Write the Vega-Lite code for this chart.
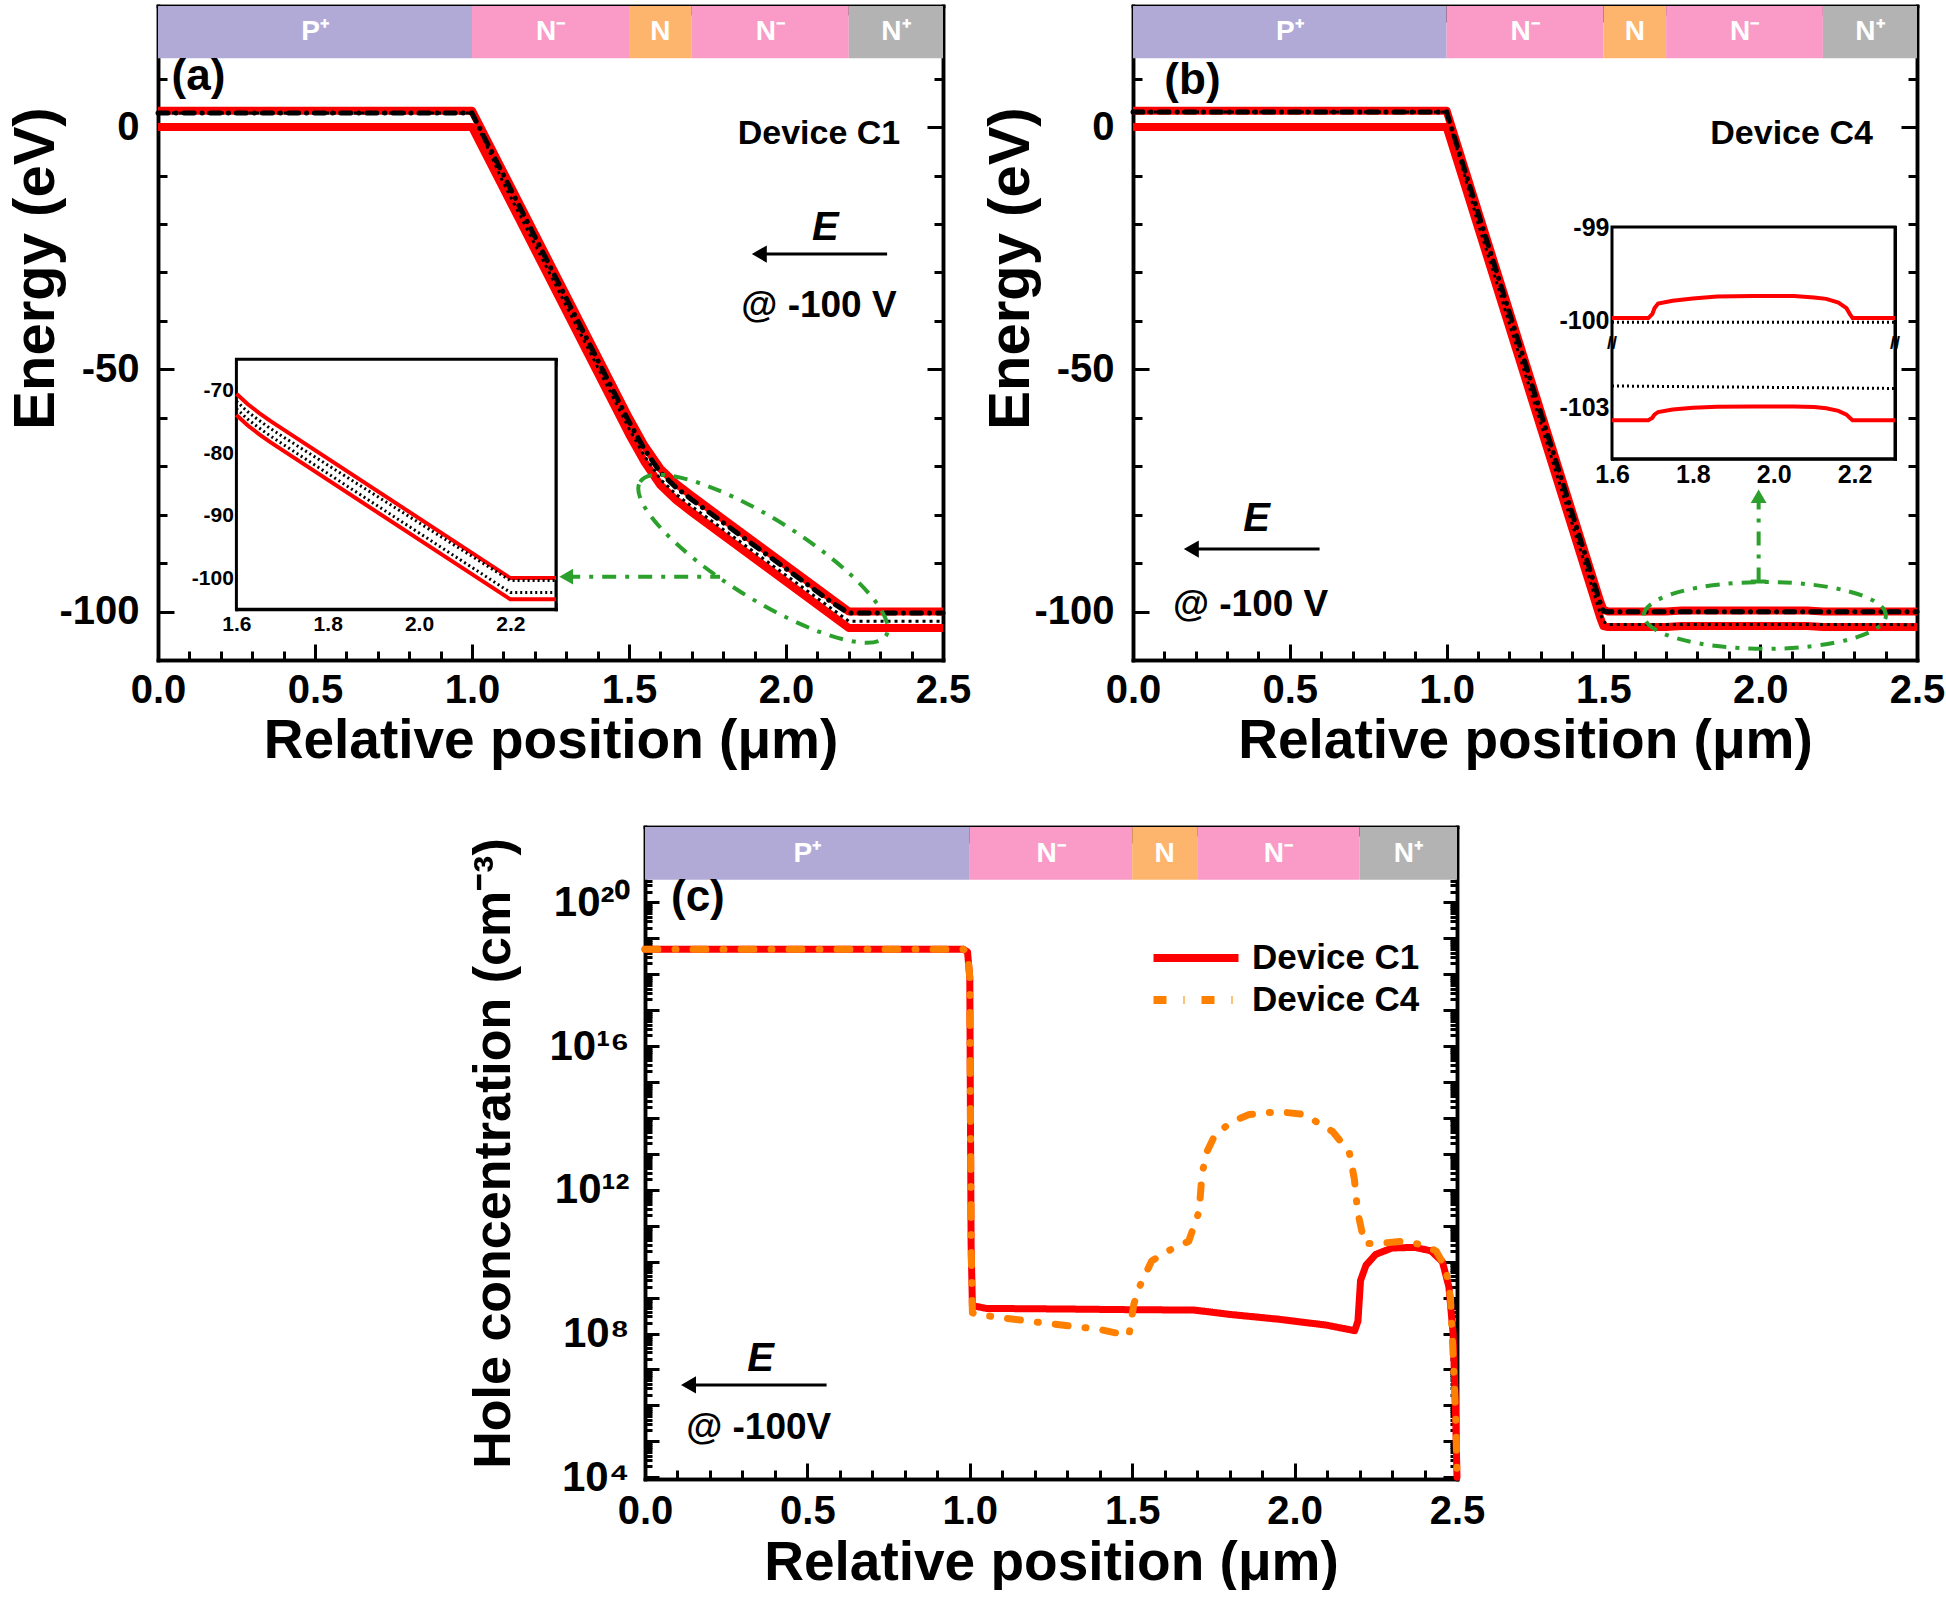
{
"$schema":"https://vega.github.io/schema/vega-lite/v6.json",
"background":"white",
"padding":{"left":7,"top":4,"right":0,"bottom":0},
"config":{
 "font":"Liberation Sans",
 "view":{"stroke":null},
 "axis":{"grid":false,"domainColor":"black","domainWidth":3.5,"domainCap":"square","tickColor":"black","tickWidth":3,"labelFont":"Liberation Sans","labelFontWeight":"bold","labelFontSize":40,"labelColor":"black","titleFont":"Liberation Sans","titleFontWeight":"bold","titleFontSize":55,"titleColor":"black","zindex":1,"labelOverlap":false,"labelFlush":false,"labelBound":false},
 "text":{"font":"Liberation Sans"}
},
"datasets":{
 "regions":[
  {"reg":"P+","lab":"P⁺","x0":0,"x1":1.0,"xm":0.5},
  {"reg":"N-","lab":"N⁻","x0":1.0,"x1":1.5,"xm":1.25},
  {"reg":"N","lab":"N","x0":1.5,"x1":1.7,"xm":1.6},
  {"reg":"N-","lab":"N⁻","x0":1.7,"x1":2.2,"xm":1.95},
  {"reg":"N+","lab":"N⁺","x0":2.2,"x1":2.5,"xm":2.35}
 ],
 "bandA":[
  {"s":"Ec","x":0,"y":3.4},{"s":"Ec","x":1.0,"y":3.4},{"s":"Ec","x":1.5,"y":-60},{"s":"Ec","x":1.55,"y":-65.8},{"s":"Ec","x":1.6,"y":-70.5},{"s":"Ec","x":1.65,"y":-73.6},{"s":"Ec","x":1.7,"y":-76.1},{"s":"Ec","x":2.2,"y":-100},{"s":"Ec","x":2.5,"y":-100},
  {"s":"Ev","x":0,"y":0},{"s":"Ev","x":1.0,"y":0},{"s":"Ev","x":1.5,"y":-63.4},{"s":"Ev","x":1.55,"y":-69.2},{"s":"Ev","x":1.6,"y":-73.9},{"s":"Ev","x":1.65,"y":-77.0},{"s":"Ev","x":1.7,"y":-79.5},{"s":"Ev","x":2.2,"y":-103.4},{"s":"Ev","x":2.5,"y":-103.4},
  {"s":"Fn","x":0,"y":2.9},{"s":"Fn","x":1.0,"y":2.9},{"s":"Fn","x":1.5,"y":-60.8},{"s":"Fn","x":1.55,"y":-66.6},{"s":"Fn","x":1.6,"y":-71.3},{"s":"Fn","x":1.65,"y":-74.4},{"s":"Fn","x":1.7,"y":-76.9},{"s":"Fn","x":2.15,"y":-98.3},{"s":"Fn","x":2.2,"y":-100.3},{"s":"Fn","x":2.5,"y":-100.3},
  {"s":"Fp","x":0,"y":2.9},{"s":"Fp","x":1.0,"y":2.9},{"s":"Fp","x":1.1,"y":-11.5},{"s":"Fp","x":1.5,"y":-62.2},{"s":"Fp","x":1.55,"y":-68.0},{"s":"Fp","x":1.6,"y":-72.7},{"s":"Fp","x":1.65,"y":-75.8},{"s":"Fp","x":1.7,"y":-78.3},{"s":"Fp","x":2.2,"y":-102.0},{"s":"Fp","x":2.5,"y":-102.0}
 ],
 "insetA":[
  {"s":"Ec","x":1.6,"y":-70.5},{"s":"Ec","x":1.625,"y":-72.2},{"s":"Ec","x":1.65,"y":-73.6},{"s":"Ec","x":1.675,"y":-74.9},{"s":"Ec","x":1.7,"y":-76.1},{"s":"Ec","x":2.2,"y":-100},{"s":"Ec","x":2.3,"y":-100},
  {"s":"Ev","x":1.6,"y":-73.9},{"s":"Ev","x":1.625,"y":-75.6},{"s":"Ev","x":1.65,"y":-77.0},{"s":"Ev","x":1.675,"y":-78.3},{"s":"Ev","x":1.7,"y":-79.5},{"s":"Ev","x":2.2,"y":-103.4},{"s":"Ev","x":2.3,"y":-103.4},
  {"s":"Fn","x":1.6,"y":-71.7},{"s":"Fn","x":1.625,"y":-73.4},{"s":"Fn","x":1.65,"y":-74.8},{"s":"Fn","x":1.675,"y":-76.1},{"s":"Fn","x":1.7,"y":-77.3},{"s":"Fn","x":2.2,"y":-100.4},{"s":"Fn","x":2.3,"y":-100.4},
  {"s":"Fp","x":1.6,"y":-72.9},{"s":"Fp","x":1.625,"y":-74.6},{"s":"Fp","x":1.65,"y":-76.0},{"s":"Fp","x":1.675,"y":-77.3},{"s":"Fp","x":1.7,"y":-78.5},{"s":"Fp","x":2.2,"y":-102.3},{"s":"Fp","x":2.3,"y":-102.3}
 ],
 "bandB":[
  {"s":"Ec","x":0,"y":3.4},{"s":"Ec","x":1.0,"y":3.4},{"s":"Ec","x":1.49,"y":-97.9},{"s":"Ec","x":1.5,"y":-99.6},{"s":"Ec","x":1.515,"y":-100},{"s":"Ec","x":1.7,"y":-100},{"s":"Ec","x":1.75,"y":-99.8},{"s":"Ec","x":2.15,"y":-99.8},{"s":"Ec","x":2.2,"y":-100},{"s":"Ec","x":2.5,"y":-100},
  {"s":"Ev","x":0,"y":0},{"s":"Ev","x":1.0,"y":0},{"s":"Ev","x":1.49,"y":-101.3},{"s":"Ev","x":1.5,"y":-103.0},{"s":"Ev","x":1.515,"y":-103.2},{"s":"Ev","x":1.7,"y":-103.2},{"s":"Ev","x":1.75,"y":-103.0},{"s":"Ev","x":2.15,"y":-103.0},{"s":"Ev","x":2.2,"y":-103.2},{"s":"Ev","x":2.5,"y":-103.2},
  {"s":"Fn","x":0,"y":3.1},{"s":"Fn","x":1.0,"y":3.1},{"s":"Fn","x":1.49,"y":-98.2},{"s":"Fn","x":1.5,"y":-99.9},{"s":"Fn","x":1.515,"y":-100.02},{"s":"Fn","x":2.5,"y":-100.02},
  {"s":"Fp","x":0,"y":3.1},{"s":"Fp","x":1.0,"y":3.1},{"s":"Fp","x":1.1,"y":-19.8},{"s":"Fp","x":1.49,"y":-100.4},{"s":"Fp","x":1.5,"y":-102.1},{"s":"Fp","x":1.515,"y":-102.66},{"s":"Fp","x":2.5,"y":-102.7}
 ],
 "insetB":[
  {"s":"Ec","x":1.6,"y":-99.975},{"s":"Ec","x":1.69,"y":-99.975},{"s":"Ec","x":1.7,"y":-99.93},{"s":"Ec","x":1.705,"y":-99.87},{"s":"Ec","x":1.714,"y":-99.82},{"s":"Ec","x":1.75,"y":-99.79},{"s":"Ec","x":1.8,"y":-99.765},{"s":"Ec","x":1.86,"y":-99.745},{"s":"Ec","x":1.95,"y":-99.74},{"s":"Ec","x":2.05,"y":-99.74},{"s":"Ec","x":2.1,"y":-99.755},{"s":"Ec","x":2.13,"y":-99.77},{"s":"Ec","x":2.16,"y":-99.81},{"s":"Ec","x":2.18,"y":-99.87},{"s":"Ec","x":2.188,"y":-99.93},{"s":"Ec","x":2.195,"y":-99.975},{"s":"Ec","x":2.3,"y":-99.975},
  {"s":"Ev","x":1.6,"y":-103.21},{"s":"Ev","x":1.69,"y":-103.21},{"s":"Ev","x":1.7,"y":-103.17},{"s":"Ev","x":1.705,"y":-103.12},{"s":"Ev","x":1.714,"y":-103.08},{"s":"Ev","x":1.75,"y":-103.04},{"s":"Ev","x":1.8,"y":-103.01},{"s":"Ev","x":1.86,"y":-102.995},{"s":"Ev","x":1.95,"y":-102.99},{"s":"Ev","x":2.05,"y":-102.99},{"s":"Ev","x":2.1,"y":-103.0},{"s":"Ev","x":2.13,"y":-103.02},{"s":"Ev","x":2.16,"y":-103.06},{"s":"Ev","x":2.18,"y":-103.12},{"s":"Ev","x":2.188,"y":-103.17},{"s":"Ev","x":2.195,"y":-103.21},{"s":"Ev","x":2.3,"y":-103.21},
  {"s":"Fn","x":1.6,"y":-100.02},{"s":"Fn","x":2.3,"y":-100.02},
  {"s":"Fp","x":1.6,"y":-102.66},{"s":"Fp","x":2.3,"y":-102.7}
 ],
 "holes":[
  {"dev":"Device C1","x":0,"p":5e18},{"dev":"Device C1","x":0.98,"p":5e18},{"dev":"Device C1","x":0.993,"p":4.2e18},{"dev":"Device C1","x":1.0,"p":8e17},{"dev":"Device C1","x":1.002,"p":1e14},{"dev":"Device C1","x":1.004,"p":3e10},{"dev":"Device C1","x":1.008,"p":6e8},{"dev":"Device C1","x":1.05,"p":5e8},{"dev":"Device C1","x":1.3,"p":4.8e8},{"dev":"Device C1","x":1.5,"p":4.6e8},{"dev":"Device C1","x":1.69,"p":4.5e8},{"dev":"Device C1","x":1.8,"p":3.4e8},{"dev":"Device C1","x":1.95,"p":2.5e8},{"dev":"Device C1","x":2.1,"p":1.7e8},{"dev":"Device C1","x":2.185,"p":1.2e8},{"dev":"Device C1","x":2.195,"p":2.2e8},{"dev":"Device C1","x":2.203,"p":3e9},{"dev":"Device C1","x":2.22,"p":8e9},{"dev":"Device C1","x":2.25,"p":1.6e10},{"dev":"Device C1","x":2.3,"p":2.4e10},{"dev":"Device C1","x":2.37,"p":2.5e10},{"dev":"Device C1","x":2.42,"p":2e10},{"dev":"Device C1","x":2.455,"p":1e10},{"dev":"Device C1","x":2.475,"p":2e9},{"dev":"Device C1","x":2.488,"p":1e8},{"dev":"Device C1","x":2.495,"p":1e6},{"dev":"Device C1","x":2.5,"p":1e4},
  {"dev":"Device C4","x":0,"p":5e18},{"dev":"Device C4","x":0.98,"p":5e18},{"dev":"Device C4","x":0.993,"p":4.2e18},{"dev":"Device C4","x":1.0,"p":8e17},{"dev":"Device C4","x":1.002,"p":1e14},{"dev":"Device C4","x":1.004,"p":3e10},{"dev":"Device C4","x":1.008,"p":3.8e8},{"dev":"Device C4","x":1.02,"p":3.4e8},{"dev":"Device C4","x":1.2,"p":2.1e8},{"dev":"Device C4","x":1.4,"p":1.3e8},{"dev":"Device C4","x":1.47,"p":9.5e7},{"dev":"Device C4","x":1.49,"p":9e7},{"dev":"Device C4","x":1.505,"p":6.5e8},{"dev":"Device C4","x":1.52,"p":1.8e9},{"dev":"Device C4","x":1.56,"p":1.05e10},{"dev":"Device C4","x":1.616,"p":2.1e10},{"dev":"Device C4","x":1.674,"p":3.7e10},{"dev":"Device C4","x":1.706,"p":2.5e11},{"dev":"Device C4","x":1.715,"p":2.8e12},{"dev":"Device C4","x":1.73,"p":1.15e13},{"dev":"Device C4","x":1.755,"p":3.4e13},{"dev":"Device C4","x":1.808,"p":8e13},{"dev":"Device C4","x":1.86,"p":1.25e14},{"dev":"Device C4","x":1.95,"p":1.5e14},{"dev":"Device C4","x":2.03,"p":1.25e14},{"dev":"Device C4","x":2.117,"p":4.2e13},{"dev":"Device C4","x":2.168,"p":1.15e13},{"dev":"Device C4","x":2.184,"p":2e12},{"dev":"Device C4","x":2.194,"p":2.5e11},{"dev":"Device C4","x":2.215,"p":3.2e10},{"dev":"Device C4","x":2.26,"p":3.2e10},{"dev":"Device C4","x":2.33,"p":3.7e10},{"dev":"Device C4","x":2.39,"p":3e10},{"dev":"Device C4","x":2.435,"p":2e10},{"dev":"Device C4","x":2.465,"p":6.8e9},{"dev":"Device C4","x":2.48,"p":1e9},{"dev":"Device C4","x":2.49,"p":1e7},{"dev":"Device C4","x":2.497,"p":3e5},{"dev":"Device C4","x":2.5,"p":1e4}
 ]
},
"spacing":41,
"vconcat":[
 {"spacing":11,"hconcat":[
  {"width":785,"height":654,
   "resolve":{"scale":{"x":"independent","y":"independent"}},
   "layer":[
    {"data":{"name":"regions"},"mark":{"type":"rect"},
     "encoding":{"x":{"field":"x0","type":"quantitative","scale":{"domain":[0,2.5],"nice":false,"zero":false},"axis":{"orient":"top","values":[0.1,0.2,0.3,0.4,0.6,0.7,0.8,0.9,1.1,1.2,1.3,1.4,1.6,1.7,1.8,1.9,2.1,2.2,2.3,2.4],"tickSize":-9,"labels":false,"title":null}},
      "x2":{"field":"x1"},
      "y":{"datum":25,"type":"quantitative","scale":{"domain":[-110,25],"nice":false,"zero":false},"axis":{"orient":"right","values":[-110,-90,-80,-70,-60,-40,-30,-20,-10,10,20],"tickSize":-9,"labels":false,"title":null}},
      "y2":{"datum":14.2},
      "fill":{"field":"reg","type":"nominal","scale":{"domain":["P+","N-","N","N+"],"range":["#B1A9D6","#F99BC6","#FDB56E","#B3B3B3"]},"legend":null}}},
    {"data":{"name":"regions"},"mark":{"type":"text","color":"white","fontSize":28,"fontWeight":"bold"},
     "encoding":{"x":{"field":"xm","type":"quantitative","scale":{"domain":[0,2.5],"nice":false,"zero":false},"axis":null},
      "y":{"datum":19.6,"type":"quantitative","scale":{"domain":[-110,25],"nice":false,"zero":false},"axis":null},
      "text":{"field":"lab"}}},
    {"data":{"name":"bandA"},"transform":[{"filter":"datum.s == 'Ec' || datum.s == 'Ev'"}],
     "mark":{"type":"line","color":"#FF0000","strokeWidth":8,"strokeJoin":"round"},
     "encoding":{"x":{"field":"x","type":"quantitative","scale":{"domain":[0,2.5],"nice":false,"zero":false},"axis":{"orient":"bottom","values":[0,0.5,1,1.5,2,2.5],"format":".1f","tickSize":-16,"labelPadding":26,"title":"Relative position (μm)","titlePadding":4}},
      "y":{"field":"y","type":"quantitative","scale":{"domain":[-110,25],"nice":false,"zero":false},"axis":{"orient":"left","values":[-100,-50,0],"labelExpr":"'' + datum.value","tickSize":-16,"labelPadding":35,"title":"Energy (eV)","titleFontSize":58,"titlePadding":-7,"titleY":262}},
      "detail":{"field":"s"}}},
    {"data":{"name":"bandA"},"transform":[{"filter":"datum.s == 'Fn'"}],
     "mark":{"type":"line","color":"black","strokeWidth":5,"strokeDash":[10,8,0.1,8],"strokeCap":"round"},
     "encoding":{"x":{"field":"x","type":"quantitative","scale":{"domain":[0,2.5],"nice":false,"zero":false},"axis":{"orient":"bottom","values":[0.1,0.2,0.3,0.4,0.6,0.7,0.8,0.9,1.1,1.2,1.3,1.4,1.6,1.7,1.8,1.9,2.1,2.2,2.3,2.4],"tickSize":-9,"labels":false,"title":null}},
      "y":{"field":"y","type":"quantitative","scale":{"domain":[-110,25],"nice":false,"zero":false},"axis":{"orient":"left","values":[-110,-90,-80,-70,-60,-40,-30,-20,-10,10,20],"tickSize":-9,"labels":false,"title":null}}}},
    {"data":{"name":"bandA"},"transform":[{"filter":"datum.s == 'Fp'"}],
     "mark":{"type":"line","color":"black","strokeWidth":3,"strokeDash":[3,4]},
     "encoding":{"x":{"field":"x","type":"quantitative","scale":{"domain":[0,2.5],"nice":false,"zero":false},"axis":{"orient":"top","values":[0,0.5,1,1.5,2,2.5],"tickSize":-16,"labels":false,"title":null}},
      "y":{"field":"y","type":"quantitative","scale":{"domain":[-110,25],"nice":false,"zero":false},"axis":{"orient":"right","values":[-100,-50,0],"tickSize":-16,"labels":false,"title":null}}}},
    {"data":{"values":[{}]},"mark":{"type":"text","text":"(a)","fontSize":44,"fontWeight":"bold","align":"left","baseline":"middle"},
     "encoding":{"x":{"datum":0.043,"type":"quantitative","scale":{"domain":[0,2.5],"nice":false,"zero":false},"axis":null},"y":{"datum":10.3,"type":"quantitative","scale":{"domain":[-110,25],"nice":false,"zero":false},"axis":null}}},
    {"data":{"values":[{}]},"mark":{"type":"text","text":"Device C1","fontSize":34,"fontWeight":"bold","align":"center","baseline":"middle"},
     "encoding":{"x":{"datum":2.105,"type":"quantitative","scale":{"domain":[0,2.5],"nice":false,"zero":false},"axis":null},"y":{"datum":-1.5,"type":"quantitative","scale":{"domain":[-110,25],"nice":false,"zero":false},"axis":null}}},
    {"data":{"values":[{}]},"mark":{"type":"text","text":"E","fontSize":40,"fontWeight":"bold","fontStyle":"italic","align":"center","baseline":"middle"},
     "encoding":{"x":{"datum":2.125,"type":"quantitative","scale":{"domain":[0,2.5],"nice":false,"zero":false},"axis":null},"y":{"datum":-20.8,"type":"quantitative","scale":{"domain":[-110,25],"nice":false,"zero":false},"axis":null}}},
    {"data":{"values":[{}]},"mark":{"type":"rule","color":"black","strokeWidth":3},
     "encoding":{"x":{"datum":1.91,"type":"quantitative","scale":{"domain":[0,2.5],"nice":false,"zero":false},"axis":null},"x2":{"datum":2.322},"y":{"datum":-26.2,"type":"quantitative","scale":{"domain":[-110,25],"nice":false,"zero":false},"axis":null}}},
    {"data":{"values":[{}]},"mark":{"type":"point","shape":"triangle-left","filled":true,"color":"black","size":300,"opacity":1},
     "encoding":{"x":{"datum":1.915,"type":"quantitative","scale":{"domain":[0,2.5],"nice":false,"zero":false},"axis":null},"y":{"datum":-26.2,"type":"quantitative","scale":{"domain":[-110,25],"nice":false,"zero":false},"axis":null}}},
    {"data":{"values":[{}]},"mark":{"type":"text","text":"@ -100 V","fontSize":37,"fontWeight":"bold","align":"center","baseline":"middle"},
     "encoding":{"x":{"datum":2.105,"type":"quantitative","scale":{"domain":[0,2.5],"nice":false,"zero":false},"axis":null},"y":{"datum":-37,"type":"quantitative","scale":{"domain":[-110,25],"nice":false,"zero":false},"axis":null}}},
    {"data":{"values":[{}]},"mark":{"type":"point","shape":"M-1,0 C-1,-0.1524 -0.5523,-0.276 0,-0.276 C0.5523,-0.276 1,-0.1524 1,0 C1,0.1524 0.5523,0.276 0,0.276 C-0.5523,0.276 -1,0.1524 -1,0 Z","filled":false,"color":"#2CA02C","strokeWidth":4,"strokeDash":[14,9,4,9],"size":84100,"angle":32,"opacity":1},
     "encoding":{"x":{"datum":1.927,"type":"quantitative","scale":{"domain":[0,2.5],"nice":false,"zero":false},"axis":null},"y":{"datum":-89.1,"type":"quantitative","scale":{"domain":[-110,25],"nice":false,"zero":false},"axis":null}}},
    {"data":{"values":[{}]},"mark":{"type":"rect","fill":"white","stroke":"black","strokeWidth":3},
     "encoding":{"x":{"datum":1.6,"type":"quantitative","scale":{"domain":[1.6,2.3],"range":[78.4,398],"nice":false,"zero":false},"axis":{"orient":"top","offset":-353.3,"values":[1.6,1.7,1.8,1.9,2.0,2.1,2.2,2.3],"tickSize":-7,"tickWidth":2,"domainWidth":3,"labels":false,"title":null}},"x2":{"datum":2.3},
      "y":{"datum":-105,"type":"quantitative","scale":{"domain":[-105,-65],"range":[603.3,353.3],"nice":false,"zero":false},"axis":{"orient":"right","offset":-387.5,"values":[-100,-95,-90,-85,-80,-75,-70],"tickSize":-7,"tickWidth":2,"domainWidth":3,"labels":false,"title":null}},"y2":{"datum":-65}}},
    {"data":{"name":"insetA"},"transform":[{"filter":"datum.s == 'Ec' || datum.s == 'Ev'"}],
     "mark":{"type":"line","color":"#FF0000","strokeWidth":4},
     "encoding":{"x":{"field":"x","type":"quantitative","scale":{"domain":[1.6,2.3],"range":[78.4,398],"nice":false,"zero":false},"axis":{"orient":"bottom","offset":-50.7,"values":[1.6,1.7,1.8,1.9,2.0,2.1,2.2,2.3],"labelExpr":"abs(datum.value*5 - round(datum.value*5)) < 0.001 ? format(datum.value, '.1f') : ''","tickSize":-7,"tickWidth":2,"domainWidth":3,"labelPadding":11,"labelFontSize":21,"title":null}},
      "y":{"field":"y","type":"quantitative","scale":{"domain":[-105,-65],"range":[603.3,353.3],"nice":false,"zero":false},"axis":{"orient":"left","offset":-78.4,"values":[-100,-95,-90,-85,-80,-75,-70],"labelExpr":"datum.value % 10 == 0 ? '' + datum.value : ''","tickSize":-7,"tickWidth":2,"domainWidth":3,"labelPadding":10,"labelFontSize":21,"title":null}},
      "detail":{"field":"s"}}},
    {"data":{"name":"insetA"},"transform":[{"filter":"datum.s == 'Fn' || datum.s == 'Fp'"}],
     "mark":{"type":"line","color":"black","strokeWidth":3,"strokeDash":[2,3]},
     "encoding":{"x":{"field":"x","type":"quantitative","scale":{"domain":[1.6,2.3],"range":[78.4,398],"nice":false,"zero":false},"axis":null},
      "y":{"field":"y","type":"quantitative","scale":{"domain":[-105,-65],"range":[603.3,353.3],"nice":false,"zero":false},"axis":null},
      "detail":{"field":"s"}}},
    {"data":{"values":[{}]},"mark":{"type":"rule","color":"#2CA02C","strokeWidth":4,"strokeDash":[14,9,4,9]},
     "encoding":{"x":{"datum":1.30,"type":"quantitative","scale":{"domain":[0,2.5],"nice":false,"zero":false},"axis":null},"x2":{"datum":1.79},"y":{"datum":-92.8,"type":"quantitative","scale":{"domain":[-110,25],"nice":false,"zero":false},"axis":null}}},
    {"data":{"values":[{}]},"mark":{"type":"point","shape":"triangle-left","filled":true,"color":"#2CA02C","size":250,"opacity":1},
     "encoding":{"x":{"datum":1.30,"type":"quantitative","scale":{"domain":[0,2.5],"nice":false,"zero":false},"axis":null},"y":{"datum":-92.8,"type":"quantitative","scale":{"domain":[-110,25],"nice":false,"zero":false},"axis":null}}}
   ]},
  {"width":784,"height":654,
   "resolve":{"scale":{"x":"independent","y":"independent"}},
   "layer":[
    {"data":{"name":"regions"},"mark":{"type":"rect"},
     "encoding":{"x":{"field":"x0","type":"quantitative","scale":{"domain":[0,2.5],"nice":false,"zero":false},"axis":{"orient":"top","values":[0.1,0.2,0.3,0.4,0.6,0.7,0.8,0.9,1.1,1.2,1.3,1.4,1.6,1.7,1.8,1.9,2.1,2.2,2.3,2.4],"tickSize":-9,"labels":false,"title":null}},
      "x2":{"field":"x1"},
      "y":{"datum":25,"type":"quantitative","scale":{"domain":[-110,25],"nice":false,"zero":false},"axis":{"orient":"right","values":[-110,-90,-80,-70,-60,-40,-30,-20,-10,10,20],"tickSize":-9,"labels":false,"title":null}},
      "y2":{"datum":14.2},
      "fill":{"field":"reg","type":"nominal","scale":{"domain":["P+","N-","N","N+"],"range":["#B1A9D6","#F99BC6","#FDB56E","#B3B3B3"]},"legend":null}}},
    {"data":{"name":"regions"},"mark":{"type":"text","color":"white","fontSize":28,"fontWeight":"bold"},
     "encoding":{"x":{"field":"xm","type":"quantitative","scale":{"domain":[0,2.5],"nice":false,"zero":false},"axis":null},
      "y":{"datum":19.6,"type":"quantitative","scale":{"domain":[-110,25],"nice":false,"zero":false},"axis":null},
      "text":{"field":"lab"}}},
    {"data":{"name":"bandB"},"transform":[{"filter":"datum.s == 'Ec' || datum.s == 'Ev'"}],
     "mark":{"type":"line","color":"#FF0000","strokeWidth":8,"strokeJoin":"round"},
     "encoding":{"x":{"field":"x","type":"quantitative","scale":{"domain":[0,2.5],"nice":false,"zero":false},"axis":{"orient":"bottom","values":[0,0.5,1,1.5,2,2.5],"format":".1f","tickSize":-16,"labelPadding":26,"title":"Relative position (μm)","titlePadding":4}},
      "y":{"field":"y","type":"quantitative","scale":{"domain":[-110,25],"nice":false,"zero":false},"axis":{"orient":"left","values":[-100,-50,0],"labelExpr":"'' + datum.value","tickSize":-16,"labelPadding":35,"title":"Energy (eV)","titleFontSize":58,"titlePadding":-7,"titleY":262}},
      "detail":{"field":"s"}}},
    {"data":{"name":"bandB"},"transform":[{"filter":"datum.s == 'Fn'"}],
     "mark":{"type":"line","color":"black","strokeWidth":5,"strokeDash":[10,8,0.1,8],"strokeCap":"round"},
     "encoding":{"x":{"field":"x","type":"quantitative","scale":{"domain":[0,2.5],"nice":false,"zero":false},"axis":{"orient":"bottom","values":[0.1,0.2,0.3,0.4,0.6,0.7,0.8,0.9,1.1,1.2,1.3,1.4,1.6,1.7,1.8,1.9,2.1,2.2,2.3,2.4],"tickSize":-9,"labels":false,"title":null}},
      "y":{"field":"y","type":"quantitative","scale":{"domain":[-110,25],"nice":false,"zero":false},"axis":{"orient":"left","values":[-110,-90,-80,-70,-60,-40,-30,-20,-10,10,20],"tickSize":-9,"labels":false,"title":null}}}},
    {"data":{"name":"bandB"},"transform":[{"filter":"datum.s == 'Fp'"}],
     "mark":{"type":"line","color":"black","strokeWidth":3,"strokeDash":[3,4]},
     "encoding":{"x":{"field":"x","type":"quantitative","scale":{"domain":[0,2.5],"nice":false,"zero":false},"axis":{"orient":"top","values":[0,0.5,1,1.5,2,2.5],"tickSize":-16,"labels":false,"title":null}},
      "y":{"field":"y","type":"quantitative","scale":{"domain":[-110,25],"nice":false,"zero":false},"axis":{"orient":"right","values":[-100,-50,0],"tickSize":-16,"labels":false,"title":null}}}},
    {"data":{"values":[{}]},"mark":{"type":"text","text":"(b)","fontSize":44,"fontWeight":"bold","align":"left","baseline":"middle"},
     "encoding":{"x":{"datum":0.1,"type":"quantitative","scale":{"domain":[0,2.5],"nice":false,"zero":false},"axis":null},"y":{"datum":9.5,"type":"quantitative","scale":{"domain":[-110,25],"nice":false,"zero":false},"axis":null}}},
    {"data":{"values":[{}]},"mark":{"type":"text","text":"Device C4","fontSize":34,"fontWeight":"bold","align":"center","baseline":"middle"},
     "encoding":{"x":{"datum":2.1,"type":"quantitative","scale":{"domain":[0,2.5],"nice":false,"zero":false},"axis":null},"y":{"datum":-1.5,"type":"quantitative","scale":{"domain":[-110,25],"nice":false,"zero":false},"axis":null}}},
    {"data":{"values":[{}]},"mark":{"type":"text","text":"E","fontSize":40,"fontWeight":"bold","fontStyle":"italic","align":"center","baseline":"middle"},
     "encoding":{"x":{"datum":0.394,"type":"quantitative","scale":{"domain":[0,2.5],"nice":false,"zero":false},"axis":null},"y":{"datum":-80.9,"type":"quantitative","scale":{"domain":[-110,25],"nice":false,"zero":false},"axis":null}}},
    {"data":{"values":[{}]},"mark":{"type":"rule","color":"black","strokeWidth":3},
     "encoding":{"x":{"datum":0.18,"type":"quantitative","scale":{"domain":[0,2.5],"nice":false,"zero":false},"axis":null},"x2":{"datum":0.595},"y":{"datum":-87.1,"type":"quantitative","scale":{"domain":[-110,25],"nice":false,"zero":false},"axis":null}}},
    {"data":{"values":[{}]},"mark":{"type":"point","shape":"triangle-left","filled":true,"color":"black","size":300,"opacity":1},
     "encoding":{"x":{"datum":0.186,"type":"quantitative","scale":{"domain":[0,2.5],"nice":false,"zero":false},"axis":null},"y":{"datum":-87.1,"type":"quantitative","scale":{"domain":[-110,25],"nice":false,"zero":false},"axis":null}}},
    {"data":{"values":[{}]},"mark":{"type":"text","text":"@ -100 V","fontSize":37,"fontWeight":"bold","align":"center","baseline":"middle"},
     "encoding":{"x":{"datum":0.375,"type":"quantitative","scale":{"domain":[0,2.5],"nice":false,"zero":false},"axis":null},"y":{"datum":-98.7,"type":"quantitative","scale":{"domain":[-110,25],"nice":false,"zero":false},"axis":null}}},
    {"data":{"values":[{}]},"mark":{"type":"point","shape":"M-1,0 C-1,-0.1524 -0.5523,-0.276 0,-0.276 C0.5523,-0.276 1,-0.1524 1,0 C1,0.1524 0.5523,0.276 0,0.276 C-0.5523,0.276 -1,0.1524 -1,0 Z","filled":false,"color":"#2CA02C","strokeWidth":4,"strokeDash":[14,9,4,9],"size":58564,"angle":0,"opacity":1},
     "encoding":{"x":{"datum":2.015,"type":"quantitative","scale":{"domain":[0,2.5],"nice":false,"zero":false},"axis":null},"y":{"datum":-100.8,"type":"quantitative","scale":{"domain":[-110,25],"nice":false,"zero":false},"axis":null}}},
    {"data":{"values":[{}]},"mark":{"type":"rule","color":"#2CA02C","strokeWidth":4,"strokeDash":[14,9,4,9]},
     "encoding":{"x":{"datum":1.995,"type":"quantitative","scale":{"domain":[0,2.5],"nice":false,"zero":false},"axis":null},"y":{"datum":-93.8,"type":"quantitative","scale":{"domain":[-110,25],"nice":false,"zero":false},"axis":null},"y2":{"datum":-77}}},
    {"data":{"values":[{}]},"mark":{"type":"rule","color":"#2CA02C","strokeWidth":4},
     "encoding":{"x":{"datum":1.97,"type":"quantitative","scale":{"domain":[0,2.5],"nice":false,"zero":false},"axis":null},"x2":{"datum":2.02},"y":{"datum":-93.8,"type":"quantitative","scale":{"domain":[-110,25],"nice":false,"zero":false},"axis":null}}},
    {"data":{"values":[{}]},"mark":{"type":"point","shape":"triangle-up","filled":true,"color":"#2CA02C","size":250,"opacity":1},
     "encoding":{"x":{"datum":1.995,"type":"quantitative","scale":{"domain":[0,2.5],"nice":false,"zero":false},"axis":null},"y":{"datum":-76.2,"type":"quantitative","scale":{"domain":[-110,25],"nice":false,"zero":false},"axis":null}}},
    {"data":{"values":[{}]},"mark":{"type":"rect","fill":"white","stroke":"black","strokeWidth":3},
     "encoding":{"x":{"datum":1.6,"type":"quantitative","scale":{"domain":[1.6,2.3],"range":[479,762],"nice":false,"zero":false},"axis":{"orient":"top","offset":-221,"values":[1.6,1.7,1.8,1.9,2.0,2.1,2.2,2.3],"tickSize":-7,"tickWidth":2,"domainWidth":3,"labels":false,"title":null}},"x2":{"datum":2.3},
      "y":{"datum":-103.83,"type":"quantitative","scale":{"domain":[-103.83,-101.98,-100.25,-99],"range":[452.7,337.7,337.7,221],"nice":false,"zero":false},"axis":{"orient":"right","offset":-22,"values":[-103.5,-103,-102.5,-100,-99.5,-99],"tickSize":-7,"tickWidth":2,"domainWidth":3,"labels":false,"title":null}},"y2":{"datum":-99}}},
    {"data":{"name":"insetB"},"transform":[{"filter":"datum.s == 'Ec' || datum.s == 'Ev'"}],
     "mark":{"type":"line","color":"#FF0000","strokeWidth":4},
     "encoding":{"x":{"field":"x","type":"quantitative","scale":{"domain":[1.6,2.3],"range":[479,762],"nice":false,"zero":false},"axis":{"orient":"bottom","offset":-201.3,"values":[1.6,1.7,1.8,1.9,2.0,2.1,2.2,2.3],"labelExpr":"abs(datum.value*5 - round(datum.value*5)) < 0.001 ? format(datum.value, '.1f') : ''","tickSize":-7,"tickWidth":2,"domainWidth":3,"labelPadding":11,"labelFontSize":25,"title":null}},
      "y":{"field":"y","type":"quantitative","scale":{"domain":[-103.83,-101.98,-100.25,-99],"range":[452.7,337.7,337.7,221],"nice":false,"zero":false},"axis":{"orient":"left","offset":-479,"values":[-103.5,-103,-102.5,-100,-99.5,-99],"labelExpr":"datum.value % 1 == 0 ? '' + datum.value : ''","tickSize":-7,"tickWidth":2,"domainWidth":3,"labelPadding":10,"labelFontSize":25,"title":null}},
      "detail":{"field":"s"}}},
    {"data":{"name":"insetB"},"transform":[{"filter":"datum.s == 'Fn' || datum.s == 'Fp'"}],
     "mark":{"type":"line","color":"black","strokeWidth":3,"strokeDash":[2,3]},
     "encoding":{"x":{"field":"x","type":"quantitative","scale":{"domain":[1.6,2.3],"range":[479,762],"nice":false,"zero":false},"axis":null},
      "y":{"field":"y","type":"quantitative","scale":{"domain":[-103.83,-101.98,-100.25,-99],"range":[452.7,337.7,337.7,221],"nice":false,"zero":false},"axis":null},
      "detail":{"field":"s"}}},
    {"data":{"values":[{"x":1.6},{"x":2.3}]},"mark":{"type":"text","text":"//","fontSize":18,"fontWeight":"bold","align":"center","baseline":"middle"},
     "encoding":{"x":{"field":"x","type":"quantitative","scale":{"domain":[1.6,2.3],"range":[479,762],"nice":false,"zero":false},"axis":null},
      "y":{"datum":-101,"type":"quantitative","scale":{"domain":[-103.83,-101.98,-100.25,-99],"range":[452.7,337.7,337.7,221],"nice":false,"zero":false},"axis":null}}}
   ]}
 ]},
 {"spacing":0,"hconcat":[
  {"width":309,"height":10,"data":{"values":[{}]},"mark":{"type":"point","opacity":0}},
  {"width":812,"height":652,
   "resolve":{"scale":{"x":"independent","y":"independent"}},
   "layer":[
    {"data":{"name":"regions"},"mark":{"type":"rect"},
     "encoding":{"x":{"field":"x0","type":"quantitative","scale":{"domain":[0,2.5],"nice":false,"zero":false},"axis":{"orient":"top","values":[0.1,0.2,0.3,0.4,0.6,0.7,0.8,0.9,1.1,1.2,1.3,1.4,1.6,1.7,1.8,1.9,2.1,2.2,2.3,2.4],"tickSize":-9,"labels":false,"title":null}},
      "x2":{"field":"x1"},
      "y":{"datum":1.259e22,"type":"quantitative","scale":{"type":"log","domain":[8913,1.259e22],"nice":false},"axis":{"orient":"right","tickCount":200,"tickSize":-7,"labels":false,"title":null}},
      "y2":{"datum":4.3e20},
      "fill":{"field":"reg","type":"nominal","scale":{"domain":["P+","N-","N","N+"],"range":["#B1A9D6","#F99BC6","#FDB56E","#B3B3B3"]},"legend":null}}},
    {"data":{"name":"regions"},"mark":{"type":"text","color":"white","fontSize":28,"fontWeight":"bold"},
     "encoding":{"x":{"field":"xm","type":"quantitative","scale":{"domain":[0,2.5],"nice":false,"zero":false},"axis":null},
      "y":{"datum":2.3e21,"type":"quantitative","scale":{"type":"log","domain":[8913,1.259e22],"nice":false},"axis":null},
      "text":{"field":"lab"}}},
    {"data":{"name":"holes"},
     "mark":{"type":"line","strokeWidth":7,"strokeCap":"round","strokeJoin":"round"},
     "encoding":{"x":{"field":"x","type":"quantitative","scale":{"domain":[0,2.5],"nice":false,"zero":false},"axis":{"orient":"bottom","values":[0,0.5,1,1.5,2,2.5],"format":".1f","tickSize":-16,"labelPadding":28,"title":"Relative position (μm)","titlePadding":5}},
      "y":{"field":"p","type":"quantitative","scale":{"type":"log","domain":[8913,1.259e22],"nice":false},"axis":{"orient":"left","values":[1e4,1e5,1e6,1e7,1e8,1e9,1e10,1e11,1e12,1e13,1e14,1e15,1e16,1e17,1e18,1e19,1e20,1e21,1e22],"labelExpr":"round(log(datum.value)/LN10) % 4 == 0 ? '10' + (round(log(datum.value)/LN10) == 4 ? '⁴' : round(log(datum.value)/LN10) == 8 ? '⁸' : round(log(datum.value)/LN10) == 12 ? '¹²' : round(log(datum.value)/LN10) == 16 ? '¹⁶' : '²⁰') : ''","labelFontSize":42,"tickSize":-14,"labelPadding":30,"title":"Hole concentration (cm⁻³)","titleFontSize":52,"titlePadding":28}},
      "color":{"field":"dev","type":"nominal","scale":{"domain":["Device C1","Device C4"],"range":["#FF0000","#FF8000"]},"legend":{"orient":"none","legendX":1017,"legendY":931,"title":null,"padding":0,"labelFontSize":35,"labelFont":"Liberation Sans","labelFontWeight":"bold","labelColor":"black","labelLimit":400,"labelOffset":35,"symbolType":"M-2.5,0L2.5,0","symbolSize":1156,"symbolStrokeWidth":8,"rowPadding":3}},
      "strokeDash":{"field":"dev","type":"nominal","scale":{"domain":["Device C1","Device C4"],"range":[[1,0],[13,17,1,17]]},"legend":{"orient":"none","legendX":1017,"legendY":931,"title":null,"padding":0,"labelFontSize":35,"labelFont":"Liberation Sans","labelFontWeight":"bold","labelColor":"black","labelLimit":400,"labelOffset":35,"symbolType":"M-2.5,0L2.5,0","symbolSize":1156,"symbolStrokeWidth":8,"rowPadding":3}}}},
    {"data":{"values":[{}]},"mark":{"type":"text","text":"(c)","fontSize":44,"fontWeight":"bold","align":"left","baseline":"middle"},
     "encoding":{"x":{"datum":0.08,"type":"quantitative","scale":{"domain":[0,2.5],"nice":false,"zero":false},"axis":{"orient":"bottom","values":[0.1,0.2,0.3,0.4,0.6,0.7,0.8,0.9,1.1,1.2,1.3,1.4,1.6,1.7,1.8,1.9,2.1,2.2,2.3,2.4],"tickSize":-9,"labels":false,"title":null}},
      "y":{"datum":1.3e20,"type":"quantitative","scale":{"type":"log","domain":[8913,1.259e22],"nice":false},"axis":{"orient":"left","tickCount":200,"tickSize":-7,"labels":false,"title":null}}}},
    {"data":{"values":[{}]},"mark":{"type":"text","text":"E","fontSize":40,"fontWeight":"bold","fontStyle":"italic","align":"center","baseline":"middle"},
     "encoding":{"x":{"datum":0.356,"type":"quantitative","scale":{"domain":[0,2.5],"nice":false,"zero":false},"axis":{"orient":"top","values":[0,0.5,1,1.5,2,2.5],"tickSize":-16,"labels":false,"title":null}},
      "y":{"datum":2e7,"type":"quantitative","scale":{"type":"log","domain":[8913,1.259e22],"nice":false},"axis":{"orient":"right","values":[1e4,1e5,1e6,1e7,1e8,1e9,1e10,1e11,1e12,1e13,1e14,1e15,1e16,1e17,1e18,1e19,1e20,1e21,1e22],"tickSize":-14,"labels":false,"title":null}}}},
    {"data":{"values":[{}]},"mark":{"type":"rule","color":"black","strokeWidth":3},
     "encoding":{"x":{"datum":0.13,"type":"quantitative","scale":{"domain":[0,2.5],"nice":false,"zero":false},"axis":null},"x2":{"datum":0.559},"y":{"datum":3.7e6,"type":"quantitative","scale":{"type":"log","domain":[8913,1.259e22],"nice":false},"axis":null}}},
    {"data":{"values":[{}]},"mark":{"type":"point","shape":"triangle-left","filled":true,"color":"black","size":300,"opacity":1},
     "encoding":{"x":{"datum":0.134,"type":"quantitative","scale":{"domain":[0,2.5],"nice":false,"zero":false},"axis":null},"y":{"datum":3.7e6,"type":"quantitative","scale":{"type":"log","domain":[8913,1.259e22],"nice":false},"axis":null}}},
    {"data":{"values":[{}]},"mark":{"type":"text","text":"@ -100V","fontSize":37,"fontWeight":"bold","align":"center","baseline":"middle"},
     "encoding":{"x":{"datum":0.35,"type":"quantitative","scale":{"domain":[0,2.5],"nice":false,"zero":false},"axis":null},"y":{"datum":2.4e5,"type":"quantitative","scale":{"type":"log","domain":[8913,1.259e22],"nice":false},"axis":null}}}
   ]}
 ]}
]
}
